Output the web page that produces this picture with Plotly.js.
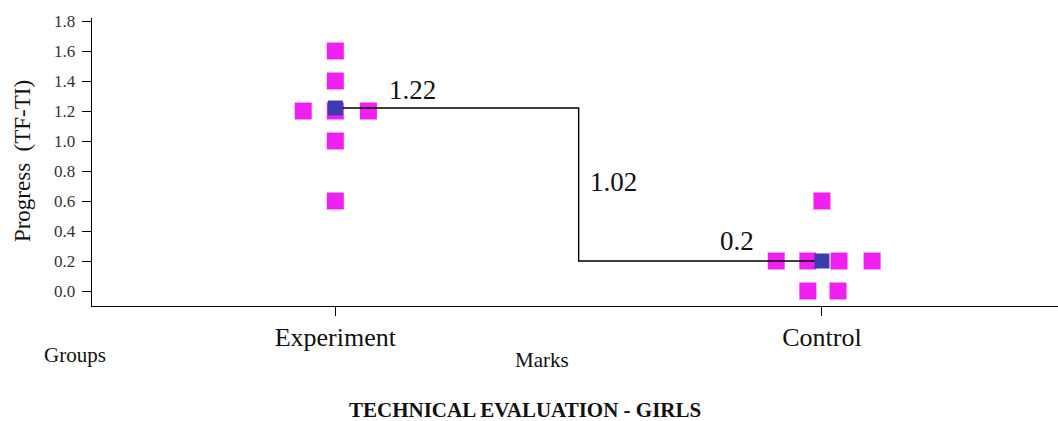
<!DOCTYPE html>
<html>
<head>
<meta charset="utf-8">
<script src="https://cdn.plot.ly/plotly-3.0.1.min.js"></script>
<style>html,body{margin:0;padding:0;background:#fff;}#chart{width:1058px;height:421px;}</style>
</head>
<body>
<div id="chart"></div>
<script>
// Data
var categories = ["Experiment", "Control"];
var experimentValues = [1.6, 1.4, 1.2, 1.2, 1.2, 1.0, 0.6];
var experimentJitter = [0, 0, -0.066, 0, 0.068, 0, 0];
var controlValues = [0.6, 0.2, 0.2, 0.2, 0.2, 0.0, 0.0];
var controlJitter = [0, -0.094, -0.029, 0.035, 0.103, -0.029, 0.033];
var meanValues = [1.22, 0.2];
var meanDifference = 1.02;
var yTicks = [0, 0.2, 0.4, 0.6, 0.8, 1.0, 1.2, 1.4, 1.6, 1.8];

var catPos = categories.map(function(c, i){ return i + 1; });
var serif = "Liberation Serif, Times New Roman, serif";

var ex = experimentValues.map(function(v, i){ return catPos[0] + experimentJitter[i]; });
var cx = controlValues.map(function(v, i){ return catPos[1] + controlJitter[i]; });

var dotStyle = {symbol: "square", size: 17, color: "#f020f0", line: {width: 0}};

var traces = [
  {x: ex, y: experimentValues, mode: "markers", type: "scatter", marker: dotStyle},
  {x: cx, y: controlValues, mode: "markers", type: "scatter", marker: dotStyle},
  {x: catPos, y: meanValues, mode: "lines+markers", type: "scatter",
   line: {shape: "hvh", color: "#000", width: 1.4},
   marker: {symbol: "square", size: 15, color: "#3c3cb0", line: {width: 0}}}
];

function fmt(v){ return String(v); }
var numFont = {family: serif, size: 27, color: "#111"};

function note(x, y, xref, yref, text, font, extra){
  var a = {x: x, y: y, xref: xref, yref: yref, text: text, showarrow: false,
           xanchor: "center", yanchor: "middle", font: font};
  if (extra) for (var k in extra) a[k] = extra[k];
  return a;
}

var annotations = [
  note(catPos[0] + 0.158, meanValues[0] + 0.12, "x", "y", fmt(meanValues[0]), numFont),
  note((catPos[0] + catPos[1]) / 2 + 0.071, (meanValues[0] + meanValues[1]) / 2 + 0.017, "x", "y", fmt(meanDifference), numFont),
  note(catPos[1] - 0.175, meanValues[1] + 0.133, "x", "y", fmt(meanValues[1]), numFont),
  note(-0.0176, -0.170, "paper", "paper", "Groups", {family: serif, size: 21, color: "#111"}),
  note(0.466, -0.1875, "paper", "paper", "Marks", {family: serif, size: 21, color: "#111"}),
  note(0.448, -0.361, "paper", "paper", "<b>TECHNICAL EVALUATION - GIRLS</b>", {family: serif, size: 21, color: "#111"}),
  note(-0.0725, 0.503, "paper", "paper", "Progress  (TF-TI)", {family: serif, size: 23, color: "#111"}, {textangle: -90})
];

var layout = {
  width: 1058, height: 421,
  margin: {l: 92, r: 0, t: 18, b: 115},
  paper_bgcolor: "#fff", plot_bgcolor: "#fff",
  showlegend: false,
  xaxis: {
    range: [0.5, 2.485], tickvals: catPos, ticktext: categories,
    showgrid: false, zeroline: false, showline: true, linecolor: "#000", linewidth: 1.4,
    ticks: "outside", ticklen: 9, tickcolor: "#000", tickwidth: 1,
    ticklabelstandoff: -2,
    tickfont: {family: serif, size: 26, color: "#111"}
  },
  yaxis: {
    range: [-0.1, 1.82], tickvals: yTicks, ticktext: yTicks.map(function(v){ return v.toFixed(1); }),
    showgrid: false, zeroline: false, showline: true, linecolor: "#000", linewidth: 1.4,
    ticks: "outside", ticklen: 9, tickcolor: "#000", tickwidth: 1,
    ticklabelstandoff: 3,
    tickfont: {family: serif, size: 17, color: "#333"}
  },
  annotations: annotations
};

Plotly.newPlot("chart", traces, layout, {displayModeBar: false, staticPlot: true});
</script>
</body>
</html>
